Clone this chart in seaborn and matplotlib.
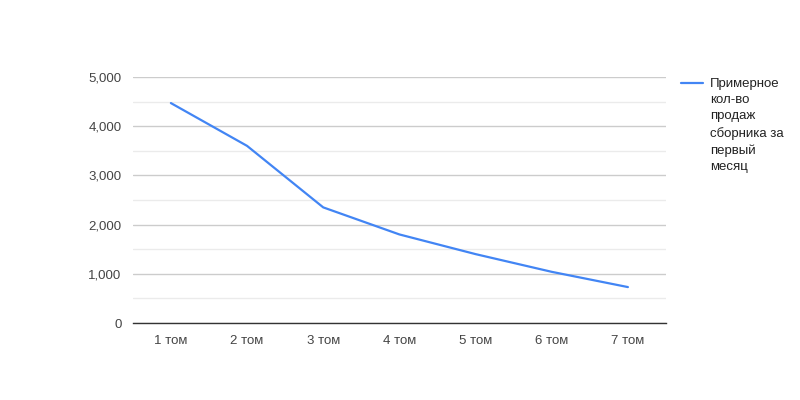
import matplotlib
matplotlib.use("Agg")
import matplotlib.pyplot as plt
import seaborn as sns
import pandas as pd
from matplotlib.lines import Line2D
from matplotlib.ticker import MultipleLocator, FuncFormatter

categories = ["1 том", "2 том", "3 том", "4 том", "5 том", "6 том", "7 том"]
sales = [4470, 3600, 2350, 1800, 1400, 1040, 730]
series_name = "Примерное\nкол-во\nпродаж\nсборника за\nпервый\nмесяц"

df = pd.DataFrame({"cat": categories, "val": sales})

sns.set_style("white")
plt.rcParams["font.family"] = ["Liberation Sans", "DejaVu Sans"]

fig = plt.figure(figsize=(8, 4), dpi=100)
ax = fig.add_axes([0.166, 0.1925, 0.6665, 0.615])

line_color = "#4285f4"
sns.lineplot(data=df, x="cat", y="val", ax=ax, color=line_color, linewidth=1.6,
             sort=False, legend=False)

ax.set_xlim(-0.5, 6.5)
ax.set_ylim(0, 5000)
ax.yaxis.set_major_locator(MultipleLocator(1000))
ax.yaxis.set_minor_locator(MultipleLocator(500))
ax.yaxis.set_major_formatter(FuncFormatter(lambda v, p: f"{int(v):,}"))
ax.grid(axis="y", which="major", color="#cccccc", linewidth=1)
ax.grid(axis="y", which="minor", color="#ebebeb", linewidth=1)
ax.grid(axis="x", visible=False)
ax.set_axisbelow(True)
for s in ["top", "right", "left"]:
    ax.spines[s].set_visible(False)
ax.spines["bottom"].set_color("#333333")
ax.spines["bottom"].set_linewidth(1)
ax.tick_params(axis="both", which="both", length=0, labelsize=9.5, colors="#444444")
ax.tick_params(axis="y", pad=8)
ax.tick_params(axis="x", pad=9)
ax.set_xlabel("")
ax.set_ylabel("")

# legend (top-aligned, like Google Charts)
fig.add_artist(Line2D([681 / 800, 703 / 800], [1 - 83 / 400, 1 - 83 / 400],
                      color=line_color, linewidth=1.6, transform=fig.transFigure))
fig.text(710 / 800, 1 - 78 / 400, series_name, fontsize=9.5, color="#222222",
         va="top", ha="left", linespacing=1.47)

fig.savefig("out.png", dpi=100, facecolor="white")
